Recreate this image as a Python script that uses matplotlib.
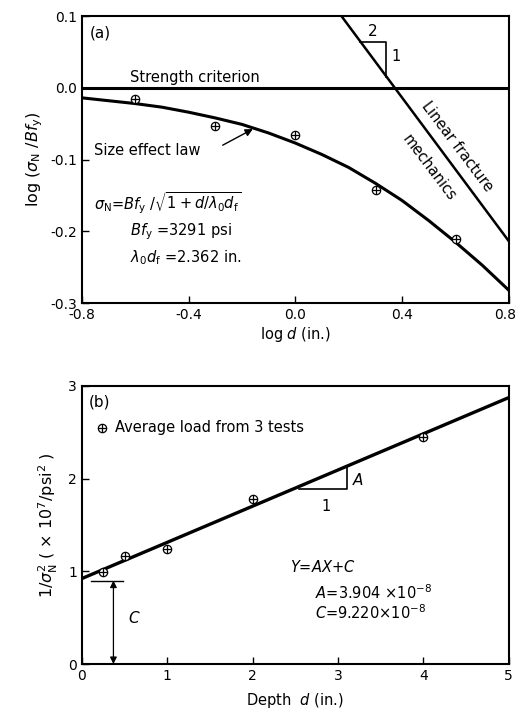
import matplotlib
matplotlib.use('Agg')
import matplotlib.pyplot as plt
import matplotlib.transforms as mtransforms

# ---- panel (a) data: log d vs log(sigma_N / Bf_y)
log_d_pts = [-0.602, -0.301, 0.0, 0.301, 0.602]
log_s_pts = [-0.016, -0.053, -0.066, -0.142, -0.211]

# size effect law curve
curve_x = [-0.8, -0.7, -0.6, -0.5, -0.4, -0.3, -0.2, -0.1, 0.0,
           0.1, 0.2, 0.3, 0.4, 0.5, 0.6, 0.7, 0.8]
curve_y = [-0.014, -0.018, -0.022, -0.027, -0.034, -0.042, -0.051, -0.063, -0.077,
           -0.093, -0.111, -0.133, -0.157, -0.185, -0.215, -0.247, -0.282]

# linear fracture mechanics line (slope -1/2)
lefm_x = [0.173, 0.8]
lefm_y = [0.1, -0.2135]

# ---- panel (b) data: depth vs 1/sigma_N^2
depth = [0.25, 0.5, 1.0, 2.0, 4.0]
inv_s2 = [0.99, 1.17, 1.24, 1.78, 2.45]
fit_x = [0.0, 5.0]
fit_y = [0.922, 2.874]

plt.rcParams['font.family'] = 'DejaVu Sans'
plt.rcParams['mathtext.fontset'] = 'dejavusans'

fig = plt.figure(figsize=(5.18, 7.13), dpi=100)
ax1 = fig.add_axes([0.158, 0.575, 0.824, 0.4025])
ax2 = fig.add_axes([0.158, 0.0687, 0.824, 0.390])

def style(ax):
    for s in ax.spines.values():
        s.set_linewidth(1.5)
    ax.tick_params(direction='in', length=5, width=1, labelsize=10,
                   top=False, right=False)

def marks(ax, x, y):
    ax.plot(x, y, 'o', ms=6, mfc='white', mec='black', mew=0.9, zorder=5)
    ax.plot(x, y, '+', ms=6, color='black', mew=0.9, zorder=6)

# ---------------- panel (a)
style(ax1)
ax1.set_xlim(-0.8, 0.8)
ax1.set_ylim(-0.3, 0.1)
ax1.set_xticks([-0.8, -0.4, 0.0, 0.4, 0.8])
ax1.set_xticklabels(['-0.8', '-0.4', '0.0', '0.4', '0.8'])
ax1.set_yticks([-0.3, -0.2, -0.1, 0.0, 0.1])
ax1.set_yticklabels(['-0.3', '-0.2', '-0.1', '0.0', '0.1'])
# keep the last x label inside the figure
last = ax1.get_xticklabels()[-1]
last.set_transform(last.get_transform() +
                   mtransforms.ScaledTranslation(-4 / 100, 0, fig.dpi_scale_trans))

ax1.axhline(0.0, color='black', lw=2.2)
ax1.plot(curve_x, curve_y, color='black', lw=2.2)
ax1.plot(lefm_x, lefm_y, color='black', lw=1.8)
marks(ax1, log_d_pts, log_s_pts)

# slope triangle 2:1
ax1.plot([0.2417, 0.342, 0.342], [0.0633, 0.0633, 0.0155], color='black', lw=1.2)
ax1.text(0.29, 0.068, '2', fontsize=11, ha='center', va='bottom')
ax1.text(0.362, 0.044, '1', fontsize=10.5, ha='left', va='center')

ax1.text(-0.772, 0.077, '(a)', fontsize=11, ha='left', va='center')
ax1.text(-0.62, 0.004, 'Strength criterion', fontsize=10.5, ha='left', va='bottom')
ax1.text(0.607, -0.082, 'Linear fracture', fontsize=10.5,
         rotation=-53, ha='center', va='center', rotation_mode='anchor')
ax1.text(0.502, -0.112, 'mechanics', fontsize=10.5,
         rotation=-53, ha='center', va='center', rotation_mode='anchor')
ax1.text(-0.755, -0.088, 'Size effect law', fontsize=10.5, ha='left', va='center')
ax1.annotate('', xy=(-0.159, -0.0575), xytext=(-0.272, -0.080),
             arrowprops=dict(arrowstyle='-|>', color='black', lw=1.0,
                             mutation_scale=11, shrinkA=0, shrinkB=0))
ax1.text(-0.755, -0.161,
         r'$\sigma_{\rm N}$=$Bf_{\rm y}$ /$\sqrt{1+d/\lambda_0 d_{\rm f}}$',
         fontsize=10.5, ha='left', va='center')
ax1.text(-0.62, -0.201, r'$Bf_{\rm y}$ =3291 psi', fontsize=10.5,
         ha='left', va='center')
ax1.text(-0.62, -0.237, r'$\lambda_0 d_{\rm f}$ =2.362 in.', fontsize=10.5,
         ha='left', va='center')

ax1.set_xlabel(r'log $d$ (in.)', fontsize=10.5, labelpad=2)
ax1.set_ylabel(r'log ($\sigma_{\rm N}$ /$Bf_{\rm y}$)', fontsize=11.5, labelpad=4)

# ---------------- panel (b)
style(ax2)
ax2.set_xlim(0, 5)
ax2.set_ylim(0, 3)
ax2.set_xticks([0, 1, 2, 3, 4, 5])
ax2.set_yticks([0, 1, 2, 3])

ax2.plot(fit_x, fit_y, color='black', lw=2.4)
marks(ax2, depth, inv_s2)

# slope triangle
ax2.plot([2.545, 3.11, 3.11], [1.89, 1.89, 2.136], color='black', lw=1.2)
ax2.text(3.16, 1.99, r'$A$', fontsize=11, ha='left', va='center')
ax2.text(2.86, 1.70, '1', fontsize=10.5, ha='center', va='center')

# intercept C
ax2.plot([0.11, 0.48], [0.90, 0.90], color='black', lw=1.0)
ax2.annotate('', xy=(0.37, 0.0), xytext=(0.37, 0.90),
             arrowprops=dict(arrowstyle='<|-|>', color='black', lw=0.9,
                             mutation_scale=10, shrinkA=0, shrinkB=0))
ax2.text(0.54, 0.50, r'$C$', fontsize=11, ha='left', va='center')

ax2.text(0.08, 2.83, '(b)', fontsize=11, ha='left', va='center')
marks(ax2, [0.234], [2.55])
ax2.text(0.386, 2.55, 'Average load from 3 tests', fontsize=10.5,
         ha='left', va='center')

ax2.text(2.44, 1.05, r'$Y$=$AX$+$C$', fontsize=10.5, ha='left', va='center')
ax2.text(2.73, 0.77, r'$A$=3.904 $\times$10$^{-8}$', fontsize=10.5,
         ha='left', va='center')
ax2.text(2.73, 0.55, r'$C$=9.220$\times$10$^{-8}$', fontsize=10.5,
         ha='left', va='center')

ax2.set_xlabel(r'Depth  $d$ (in.)', fontsize=10.5, labelpad=6)
ax2.set_ylabel(r'1/$\sigma^2_{\rm N}$ ( $\times$ 10$^7$/psi$^2$ )',
               fontsize=11.5, labelpad=6)

fig.savefig('out.png', dpi=100)
